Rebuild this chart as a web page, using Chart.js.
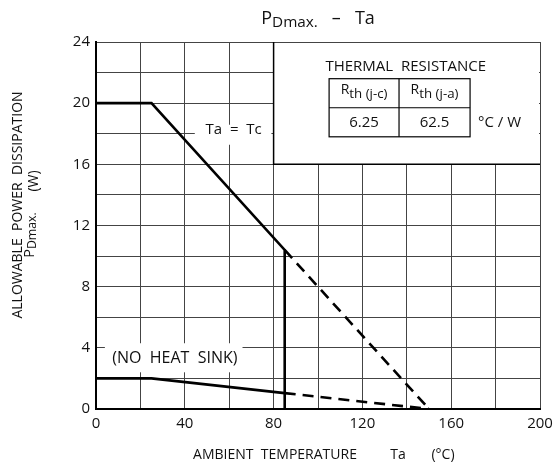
<!DOCTYPE html>
<html>
<head>
<meta charset="utf-8">
<script src="https://cdn.jsdelivr.net/npm/chart.js@4/dist/chart.umd.min.js"></script>
<style>
  html, body { margin: 0; padding: 0; background: #fff; }
  #wrap { width: 554px; height: 472px; position: relative; }
</style>
</head>
<body>
<div id="wrap"><canvas id="chart"></canvas></div>
<script>
// derating curves (Ta in °C, PDmax in W)
const caseTemps = [0, 25, 85, 85];
const casePower = [20, 20, 10.4, 0];
const caseDerateTemps = [85, 150];
const caseDeratePower = [10.4, 0];
const freeTemps = [0, 25, 85];
const freePower = [2, 2, 1.04];
const freeDerateTemps = [85, 150];
const freeDeratePower = [1.04, 0];

const xLabelTicks = [0, 40, 80, 120, 160, 200];
const yLabelTicks = [0, 4, 8, 12, 16, 20, 24];
const resistHeaders = ["j-c", "j-a"];
const resistValues = ["6.25", "62.5"];

const FONT = "'Open Sans', 'DejaVu Sans', sans-serif";

function toPoints(xs, ys) {
  return xs.map((x, i) => ({ x: x, y: ys[i] }));
}

// draw a run of text pieces, some of them subscript
function richText(ctx, parts, x, y, size, align, subScale, drop) {
  subScale = subScale || 0.85;
  drop = drop === undefined ? 0.2 : drop;
  let total = 0;
  parts.forEach((p) => {
    ctx.font = (p.sub ? size * subScale : size) + "px " + FONT;
    p.w = ctx.measureText(p.t).width;
    total += p.w;
  });
  let cx = align === "center" ? x - total / 2 : x;
  ctx.textAlign = "left";
  ctx.textBaseline = "middle";
  parts.forEach((p) => {
    ctx.font = (p.sub ? size * subScale : size) + "px " + FONT;
    ctx.fillText(p.t, cx, p.sub ? y + size * drop : y);
    cx += p.w;
  });
}

const notes = {
  id: "notes",
  beforeDatasetsDraw(chart) {
    const ctx = chart.ctx;
    const xs = chart.scales.x, ys = chart.scales.y;
    const a = chart.chartArea;
    ctx.save();

    // thermal resistance box (hides the grid behind it)
    const bx = xs.getPixelForValue(80), by = ys.getPixelForValue(16);
    ctx.fillStyle = "#fff";
    ctx.fillRect(bx, a.top + 1, a.right - bx - 1, by - a.top - 1);
    ctx.strokeStyle = "#000";
    ctx.lineWidth = 1.5;
    ctx.beginPath();
    ctx.moveTo(bx, a.top);
    ctx.lineTo(bx, by);
    ctx.lineTo(a.right, by);
    ctx.stroke();

    // white patches behind the curve labels
    ctx.fillStyle = "#fff";
    const t1 = xs.getPixelForValue(44.5), t2 = xs.getPixelForValue(79);
    ctx.fillRect(t1, ys.getPixelForValue(18) - 9, t2 - t1, 20);
    const n1 = xs.getPixelForValue(4), n2 = xs.getPixelForValue(66);
    ctx.fillRect(n1, ys.getPixelForValue(4.3), n2 - n1, ys.getPixelForValue(2.4) - ys.getPixelForValue(4.3));

    ctx.fillStyle = "#111";
    ctx.font = "15px " + FONT;
    ctx.textAlign = "center";
    ctx.textBaseline = "middle";
    ctx.fillText("Ta  =  Tc", xs.getPixelForValue(62), ys.getPixelForValue(18) - 4);
    ctx.font = "16px " + FONT;
    ctx.fillText("(NO  HEAT  SINK)", xs.getPixelForValue(35.5), ys.getPixelForValue(3.3));

    // box contents
    ctx.font = "15px " + FONT;
    ctx.fillText("THERMAL  RESISTANCE", xs.getPixelForValue(139.5), ys.getPixelForValue(22.4));
    const c0 = xs.getPixelForValue(105), c1 = xs.getPixelForValue(136.5), c2 = xs.getPixelForValue(168.5);
    const r0 = ys.getPixelForValue(21.6), r1 = ys.getPixelForValue(19.7), r2 = ys.getPixelForValue(17.8);
    ctx.strokeStyle = "#000";
    ctx.lineWidth = 1.2;
    ctx.strokeRect(c0, r0, c2 - c0, r2 - r0);
    ctx.beginPath();
    ctx.moveTo(c0, r1); ctx.lineTo(c2, r1);
    ctx.moveTo(c1, r0); ctx.lineTo(c1, r2);
    ctx.stroke();
    const cols = [c0, c1, c2];
    resistHeaders.forEach((h, i) => {
      const mid = (cols[i] + cols[i + 1]) / 2;
      richText(ctx, [{ t: "R" }, { t: "th (" + h + ")", sub: true }], mid, (r0 + r1) / 2 - 3, 14, "center", 0.95, 0.3);
      ctx.font = "15px " + FONT;
      ctx.textAlign = "center";
      ctx.fillText(resistValues[i], mid, (r1 + r2) / 2);
    });
    ctx.textAlign = "left";
    ctx.fillText("°C / W", c2 + 8, (r1 + r2) / 2);
    ctx.restore();
  },
  afterDraw(chart) {
    const ctx = chart.ctx;
    const a = chart.chartArea;
    ctx.save();
    ctx.fillStyle = "#111";
    // title
    richText(ctx, [{ t: "P" }, { t: "Dmax.", sub: true }, { t: "   –   Ta" }], (a.left + a.right) / 2, 19, 18, "center");
    // x title
    ctx.font = "14px " + FONT;
    ctx.textAlign = "center";
    ctx.textBaseline = "middle";
    ctx.fillText("AMBIENT  TEMPERATURE", 275, 455);
    ctx.fillText("Ta", 398, 455);
    ctx.fillText("(°C)", 443, 455);
    // y title
    ctx.translate(18, 205);
    ctx.rotate(-Math.PI / 2);
    ctx.fillText("ALLOWABLE  POWER  DISSIPATION", 0, 0);
    richText(ctx, [{ t: "P" }, { t: "Dmax.", sub: true }], -30, 12, 14.5, "center");
    ctx.font = "14px " + FONT;
    ctx.textAlign = "center";
    ctx.fillText("(W)", 24, 16);
    ctx.restore();
  }
};

const solid = { borderColor: "#000", borderWidth: 2.6, pointRadius: 0, showLine: true, fill: false, tension: 0 };
const dashed = Object.assign({}, solid, { borderDash: [11, 7] });

new Chart(document.getElementById("chart"), {
  type: "scatter",
  data: {
    datasets: [
      Object.assign({ data: toPoints(caseTemps, casePower) }, solid),
      Object.assign({ data: toPoints(caseDerateTemps, caseDeratePower) }, dashed),
      Object.assign({ data: toPoints(freeTemps, freePower) }, solid),
      Object.assign({ data: toPoints(freeDerateTemps, freeDeratePower) }, dashed)
    ]
  },
  options: {
    responsive: true,
    maintainAspectRatio: false,
    animation: false,
    devicePixelRatio: 1,
    layout: { padding: { top: 42, right: 14, left: 0, bottom: 0 } },
    plugins: { legend: { display: false }, tooltip: { enabled: false } },
    scales: {
      x: {
        type: "linear", min: 0, max: 200,
        afterFit(s) { s.height = 63; s.paddingLeft = 0; s.paddingRight = 0; },
        grid: { color: "#444", lineWidth: 1, drawTicks: false },
        border: { color: "#000", width: 2 },
        ticks: {
          stepSize: 20, padding: 6, color: "#111",
          font: { family: FONT, size: 15 },
          callback: (v) => (xLabelTicks.includes(v) ? v : "")
        }
      },
      y: {
        type: "linear", min: 0, max: 24,
        afterFit(s) { s.width = 96; s.paddingTop = 0; s.paddingBottom = 0; },
        grid: { color: "#444", lineWidth: 1, drawTicks: false },
        border: { color: "#000", width: 2 },
        ticks: {
          stepSize: 2, padding: 6, color: "#111",
          font: { family: FONT, size: 15 },
          callback: (v) => (yLabelTicks.includes(v) ? v : "")
        }
      }
    }
  },
  plugins: [notes]
});
</script>
</body>
</html>
